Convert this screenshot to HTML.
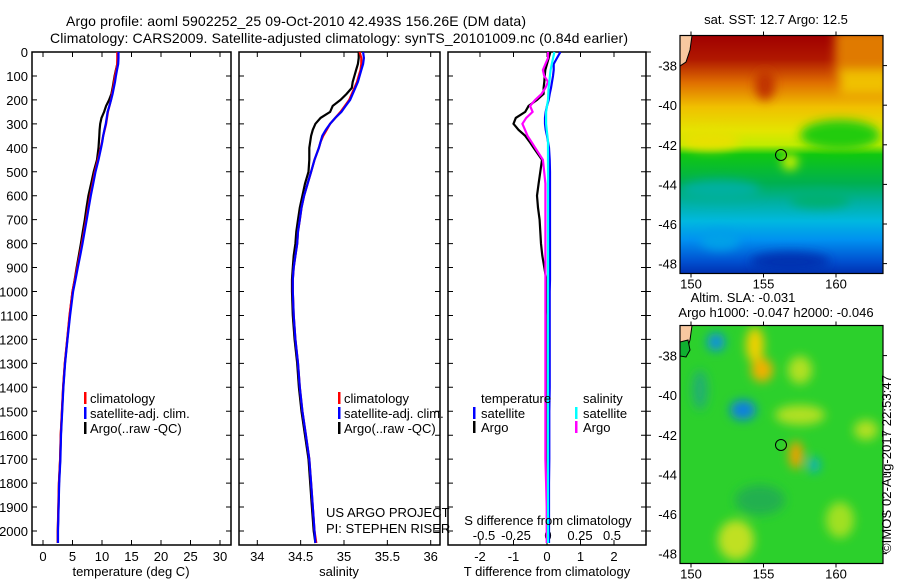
<!DOCTYPE html>
<html><head><meta charset="utf-8"><style>
body{margin:0;background:#fff;}
svg{display:block;font-family:"Liberation Sans",sans-serif;}
text{font-size:13px;fill:#000;}
</style></head><body>
<svg id="c" width="900" height="580" viewBox="0 0 900 580">
<defs>
<linearGradient id="sstg" x1="0" y1="0" x2="0" y2="1">
<stop offset="0" stop-color="#a00000"/><stop offset="0.1" stop-color="#b01800"/>
<stop offset="0.2" stop-color="#e07000"/><stop offset="0.3" stop-color="#f0c000"/>
<stop offset="0.4" stop-color="#e4e400"/><stop offset="0.46" stop-color="#c0ec00"/>
<stop offset="0.5" stop-color="#10c810"/><stop offset="0.62" stop-color="#00b050"/>
<stop offset="0.7" stop-color="#00b0a0"/><stop offset="0.78" stop-color="#00b8e0"/>
<stop offset="0.86" stop-color="#0090f0"/><stop offset="0.95" stop-color="#0050d0"/>
<stop offset="1" stop-color="#0030b0"/></linearGradient>
<filter id="bl" x="-50%" y="-50%" width="200%" height="200%"><feGaussianBlur stdDeviation="5"/></filter>
<clipPath id="m1"><rect x="680" y="35.5" width="203" height="238"/></clipPath>
<clipPath id="m2"><rect x="680" y="325.5" width="203" height="238"/></clipPath>
</defs>
<text x="66" y="26" textLength="460" style="font-size:14px">Argo profile: aoml 5902252_25 09-Oct-2010 42.493S 156.26E (DM data)</text>
<text x="50" y="43" textLength="578" style="font-size:14px">Climatology: CARS2009. Satellite-adjusted climatology: synTS_20101009.nc (0.84d earlier)</text>
<g id="plots"></g>
<!-- SST map -->
<g clip-path="url(#m1)">
<rect x="680" y="35.5" width="203" height="238" fill="url(#sstg)"/>
<g filter="url(#bl)">
<rect x="835" y="30" width="60" height="50" fill="#e07a00"/>
<rect x="840" y="70" width="50" height="25" fill="#f0c000"/>
<ellipse cx="840" cy="135" rx="40" ry="15" fill="#20cc10"/>
<ellipse cx="710" cy="140" rx="30" ry="10" fill="#e8e000"/>
<ellipse cx="790" cy="162" rx="8" ry="8" fill="#d0f000"/>
<ellipse cx="765" cy="85" rx="10" ry="15" fill="#c03000"/>
<ellipse cx="720" cy="190" rx="40" ry="10" fill="#00b0a0"/>
<ellipse cx="820" cy="200" rx="30" ry="8" fill="#00b070"/>
<ellipse cx="790" cy="262" rx="40" ry="10" fill="#0030b0"/>
<ellipse cx="720" cy="240" rx="20" ry="10" fill="#00a0e8"/>
</g>
<path d="M680,35.5 L692,35.5 L690,50 L686,62 L680,66 Z" fill="#f8c8a0" stroke="#000" stroke-width="1"/>
<circle cx="781" cy="155" r="5.5" fill="none" stroke="#000" stroke-width="1"/>
</g>
<!-- SLA map -->
<g clip-path="url(#m2)">
<rect x="680" y="325.5" width="203" height="238" fill="#2cd02c"/>
<g filter="url(#bl)">
<ellipse cx="716" cy="342" rx="9" ry="9" fill="#1090e0"/>
<ellipse cx="743" cy="410" rx="13" ry="10" fill="#0a80e0"/>
<ellipse cx="814" cy="465" rx="6" ry="8" fill="#10b0c0"/>
<ellipse cx="755" cy="345" rx="9" ry="18" fill="#f0d000"/>
<ellipse cx="762" cy="370" rx="11" ry="12" fill="#f0b000"/>
<ellipse cx="796" cy="455" rx="7" ry="14" fill="#f0a000"/>
<ellipse cx="800" cy="415" rx="25" ry="10" fill="#b0e020"/>
<ellipse cx="866" cy="430" rx="12" ry="10" fill="#b0e020"/>
<ellipse cx="736" cy="540" rx="18" ry="20" fill="#c0e020"/>
<ellipse cx="840" cy="520" rx="14" ry="18" fill="#a0e020"/>
<ellipse cx="800" cy="370" rx="12" ry="14" fill="#b0e020"/>
<ellipse cx="700" cy="390" rx="8" ry="20" fill="#20b070"/>
<ellipse cx="760" cy="500" rx="25" ry="15" fill="#20b050"/>
</g>
<path d="M680,325.5 L692,325.5 L690,340 L686,352 L680,356 Z" fill="#f8c8a0" stroke="#000" stroke-width="1"/>
<path d="M680,342 L688,340 L690,350 L686,357 L680,356 Z" fill="#10b030" stroke="#000" stroke-width="1"/>
<circle cx="781" cy="445" r="5.5" fill="none" stroke="#000" stroke-width="1"/>
</g>
<g id="maps"></g>
<text x="776" y="24" text-anchor="middle">sat. SST: 12.7 Argo: 12.5</text>
<text x="743" y="302" text-anchor="middle">Altim. SLA: -0.031</text>
<text x="776" y="317" text-anchor="middle">Argo h1000: -0.047 h2000: -0.046</text>
<text transform="translate(891,464) rotate(-90)" text-anchor="middle" textLength="178">©IMOS 02-Aug-2017 22:53:47</text>
<text x="326" y="517">US ARGO PROJECT</text>
<text x="326" y="533">PI: STEPHEN RISER</text>
</svg>
<script>
const depths=[0,25,50,75,100,125,150,175,200,225,250,275,300,325,350,375,400,450,500,550,600,650,700,750,800,850,900,950,1000,1100,1200,1300,1400,1500,1600,1700,1800,1900,2000,2050];
const tempClim=[12.6,12.6,12.6,12.4,12.2,12.05,11.9,11.7,11.5,11.25,11.0,10.85,10.7,10.45,10.2,10.0,9.8,9.3,8.8,8.4,8.0,7.65,7.3,6.95,6.6,6.2,5.8,5.4,5.0,4.5,4.1,3.7,3.4,3.2,3.0,2.9,2.7,2.6,2.5,2.5];
const tempSat=[12.8,12.8,12.75,12.55,12.35,12.2,12.0,11.8,11.55,11.25,10.95,10.8,10.65,10.4,10.2,10.05,9.85,9.4,8.9,8.5,8.1,7.75,7.4,7.05,6.7,6.3,5.9,5.5,5.1,4.6,4.15,3.75,3.45,3.25,3.05,2.95,2.75,2.65,2.55,2.55];
const tempArgo=[12.7,12.65,12.6,12.35,12.13,11.97,11.8,11.6,11.2,10.7,10.35,9.92,9.7,9.6,9.55,9.48,9.4,9.15,8.6,8.15,7.7,7.38,7.08,6.75,6.42,6.06,5.72,5.38,5.0,4.52,4.12,3.72,3.42,3.22,3.02,2.92,2.72,2.62,2.5,2.5];
const salClim=[35.18,35.2,35.2,35.19,35.17,35.15,35.12,35.09,35.06,35.01,34.96,34.9,34.84,34.8,34.76,34.73,34.71,34.66,34.62,34.58,34.54,34.51,34.49,34.47,34.46,34.44,34.42,34.41,34.41,34.42,34.44,34.47,34.49,34.52,34.56,34.6,34.62,34.64,34.66,34.68];
const salSat=[35.22,35.23,35.22,35.2,35.18,35.16,35.13,35.1,35.07,35.02,34.97,34.9,34.84,34.79,34.75,34.73,34.71,34.66,34.62,34.58,34.54,34.51,34.49,34.47,34.46,34.44,34.42,34.41,34.41,34.42,34.44,34.47,34.49,34.52,34.56,34.6,34.62,34.64,34.66,34.67];
const salArgo=[35.17,35.17,35.16,35.14,35.12,35.1,35.09,35.03,34.96,34.87,34.84,34.73,34.67,34.64,34.62,34.61,34.6,34.6,34.59,34.55,34.52,34.49,34.47,34.45,34.44,34.42,34.41,34.4,34.4,34.41,34.43,34.46,34.48,34.51,34.55,34.59,34.61,34.63,34.65,34.67];
const dTsat=[0.4,0.3,0.2,0.2,0.18,0.15,0.12,0.08,0.05,0,-0.04,-0.06,-0.06,-0.04,0,0.03,0.06,0.08,0.09,0.09,0.09,0.09,0.09,0.09,0.09,0.09,0.09,0.09,0.08,0.08,0.08,0.08,0.08,0.07,0.07,0.07,0.06,0.06,0.06,0.06];
const dTargo=[0.1,0.05,0,-0.05,-0.07,-0.08,-0.1,-0.1,-0.3,-0.55,-0.65,-0.93,-1.0,-0.85,-0.65,-0.52,-0.4,-0.15,-0.2,-0.25,-0.3,-0.27,-0.22,-0.2,-0.18,-0.14,-0.08,-0.02,0,0.02,0.02,0.02,0.02,0.02,0.02,0.02,0.02,0.02,0.02,0.02];
const dSsat=[0.05,0.04,0.03,0.02,0.015,0.01,0.005,0.002,0,-0.008,-0.015,-0.015,-0.015,-0.01,-0.005,0,0,0,0,0,0,0,0,0,0,0,0,0,0,0,0,0,0,0,0,0,0,0,0,0];
const dSargo=[0,0,-0.02,-0.04,-0.03,0,-0.02,-0.05,-0.1,-0.14,-0.12,-0.17,-0.2,-0.18,-0.16,-0.13,-0.1,-0.04,-0.03,-0.02,-0.02,-0.02,-0.02,-0.02,-0.02,-0.02,-0.02,-0.02,-0.02,-0.02,-0.02,-0.02,-0.02,-0.02,-0.02,-0.02,-0.015,-0.01,-0.01,-0.01];
const depthTicks=[0,100,200,300,400,500,600,700,800,900,1000,1100,1200,1300,1400,1500,1600,1700,1800,1900,2000];
const tempTicks=[0,5,10,15,20,25,30];
const salTicks=[34,34.5,35,35.5,36];
const dTTicks=[-2,-1,0,1,2];
const dSTicks=[-0.5,-0.25,0,0.25,0.5];
const latTicks=[-38,-40,-42,-44,-46,-48];
const lonTicks=[150,155,160];

const NS='http://www.w3.org/2000/svg';
const root=document.getElementById('plots');
function mk(tag,attrs,parent){const e=document.createElementNS(NS,tag);for(const k in attrs)e.setAttribute(k,attrs[k]);(parent||root).appendChild(e);return e;}
const Y0=52,YS=0.2395;
function yD(d){return Y0+d*YS;}
const PTOP=52,PBOT=545;
const xT=v=>43+v*5.9;
const xS=v=>344+(v-35)*86.7;
const xdT=v=>547+v*33.5;
const xdS=v=>548+v*128;

function panel(name,x0,x1,leftLabels){
  const r=mk('rect',{x:x0,y:PTOP,width:x1-x0,height:PBOT-PTOP,fill:'none',stroke:'#000','stroke-width':1.5});
  
  
  depthTicks.forEach(d=>{
    const y=yD(d);
    const t=mk('path',{d:`M${x0},${y}h5M${x1},${y}h-5`,stroke:'#000'});
    
    
    if(leftLabels){
      const tx=mk('text',{x:28,y:y+5,'text-anchor':'end'});tx.textContent=d;
      
      
    }
  });
}
function xticks(name,vals,fx,ylab,labels){
  vals.forEach(v=>{
    const x=fx(v);
    const t=mk('path',{d:`M${x},${PTOP}v5M${x},${PBOT}v-5`,stroke:'#000'});
    
    
    if(labels){const tx=mk('text',{x:x,y:ylab,'text-anchor':'middle'});tx.textContent=String(v);
      
      }
  });
}
function line(name,vals,fx,color){
  const pts=vals.map((v,i)=>fx(v).toFixed(1)+','+yD(depths[i]).toFixed(1)).join(' ');
  const p=mk('polyline',{points:pts,fill:'none',stroke:color,'stroke-width':2.2});
  
  
}
function txt(name,x,y,s,anchor){const t=mk('text',{x:x,y:y,'text-anchor':anchor||'start'});t.textContent=s;
  
  return t;}
function legMark(name,x,y,color){const r=mk('rect',{x:x,y:y-11,width:2.5,height:12,fill:color});
  
  }

// panel 1
panel('temperature-panel',32,231,true);
xticks('temperature',tempTicks,xT,561,true);
line('temperature-argo-line',tempArgo,xT,'#000');
line('temperature-climatology-line',tempClim,xT,'#f00');
line('temperature-satellite-line',tempSat,xT,'#00f');
txt('temperature-x-title',131,576,'temperature (deg C)','middle');
[['climatology','#f00'],['satellite-adj. clim.','#00f'],['Argo(..raw -QC)','#000']].forEach((l,i)=>{
  legMark('temperature-legend-marker',84,403+i*15,l[1]);txt('temperature-legend-entry',90,403+i*15,l[0]);
});
// panel 2
panel('salinity-panel',239,440,false);
xticks('salinity',salTicks,xS,561,true);
line('salinity-argo-line',salArgo,xS,'#000');
line('salinity-climatology-line',salClim,xS,'#f00');
line('salinity-satellite-line',salSat,xS,'#00f');
txt('salinity-x-title',339,576,'salinity','middle');
[['climatology','#f00'],['satellite-adj. clim.','#00f'],['Argo(..raw -QC)','#000']].forEach((l,i)=>{
  legMark('salinity-legend-marker',338,403+i*15,l[1]);txt('salinity-legend-entry',344,403+i*15,l[0]);
});
// panel 3
panel('difference-panel',448,646,false);
xticks('t-diff',dTTicks,xdT,561,true);
dSTicks.forEach(v=>{const t=txt('s-diff-tick-label',xdS(v),540,String(v),'middle');});
line('t-diff-argo-line',dTargo,xdT,'#000');
line('t-diff-satellite-line',dTsat,xdT,'#00f');
line('s-diff-argo-line',dSargo,xdS,'#f0f');
line('s-diff-satellite-line',dSsat,xdS,'#0ff');
txt('t-diff-x-title',547,576,'T difference from climatology','middle');
txt('s-diff-title',548,525,'S difference from climatology','middle');
txt('diff-legend-temperature-heading',481,403,'temperature');
txt('diff-legend-salinity-heading',583,403,'salinity');
legMark('diff-legend-marker',473,418,'#00f');txt('diff-legend-entry',481,418,'satellite');
legMark('diff-legend-marker',473,432,'#000');txt('diff-legend-entry',481,432,'Argo');
legMark('diff-legend-marker',575,418,'#0ff');txt('diff-legend-entry',583,418,'satellite');
legMark('diff-legend-marker',575,432,'#f0f');txt('diff-legend-entry',583,432,'Argo');
const rt=mk('path',{d:depthTicks.map(d=>`M646,${yD(d)}h5`).join(''),stroke:'#000'});



// map axes
const mroot=document.getElementById('maps');
const lonX=v=>691+(v-150)*14.5;
[[35.5,'sst'],[325.5,'sla']].forEach(([top,nm])=>{
  const latY=v=>top+30.1+(-38-v)*19.8;
  const f=mk('rect',{x:680,y:top,width:203,height:238,fill:'none',stroke:'#000','stroke-width':1.2},mroot);
  
  
  latTicks.forEach(v=>{const y=latY(v);
    const t=mk('path',{d:`M883,${y}h4`,stroke:'#000'},mroot);
    
    
    const tx=mk('text',{x:677,y:y+5,'text-anchor':'end'},mroot);tx.textContent=v;
    
    });
  lonTicks.forEach(v=>{const x=lonX(v);
    const t=mk('path',{d:`M${x},${top}v-4M${x},${top+238}v4`,stroke:'#000'},mroot);
    
    
    const tx=mk('text',{x:x,y:top+253,'text-anchor':'middle'},mroot);tx.textContent=v;
    
    });
});
</script>
</body></html>
